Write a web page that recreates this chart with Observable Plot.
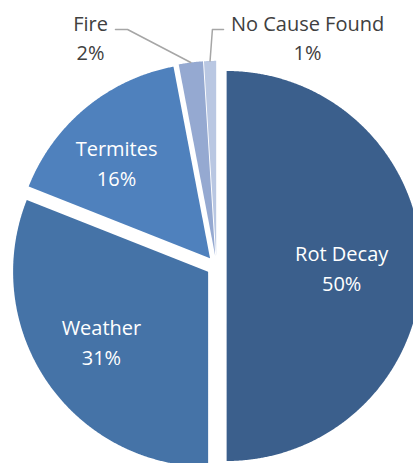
<!DOCTYPE html>
<html><head><meta charset="utf-8">
<script src="https://cdn.jsdelivr.net/npm/d3@7"></script>
<script src="https://cdn.jsdelivr.net/npm/@observablehq/plot@0.6"></script>
<style>body{margin:0;background:#fff} svg{display:block}</style>
</head><body><div id="chart"></div>
<script>
// ---- data ----
const categories = ["Rot Decay", "Weather", "Termites", "Fire", "No Cause Found"];
const values = [50, 31, 16, 2, 1];
const percentLabels = ["50%", "31%", "16%", "2%", "1%"];

// ---- style / layout ----
const colors = ["#3B5F8C", "#4573A7", "#4F81BD", "#95A9D1", "#B9C7E2"];
const W = 413, H = 463;
const cxPx = 216, cyPx = 265.5, Rpx = 195;
const explode = 0.052;
const insideLabelRadius = [0.59, 0.65, 0.69];
const insideLabelShift = [0, 1.5, -4.4]; // degrees
const outsideLabelPos = [null, null, null, [-0.646, 1.18], [0.467, 1.18]];
const leaderStart = [null, null, null, [[-0.518, 1.213], [-0.456, 1.213]], [[0.036, 1.213], [-0.021, 1.213]]];

const arcs = d3.pie().sort(null).value(d => d)(values);

const polys = [];
const labels = [];
const leaders = [];
arcs.forEach((a, i) => {
  const name = categories[i];
  const mid = (a.startAngle + a.endAngle) / 2;
  const ox = explode * Math.sin(mid), oy = explode * Math.cos(mid);
  const n = Math.max(4, Math.ceil((a.endAngle - a.startAngle) / 0.005));
  polys.push({name, x: ox, y: oy});
  for (let k = 0; k <= n; k++) {
    const t = a.startAngle + (a.endAngle - a.startAngle) * k / n;
    polys.push({name, x: ox + Math.sin(t), y: oy + Math.cos(t)});
  }
  polys.push({name, x: ox, y: oy});
  const text = name + "\n" + percentLabels[i];
  if (i < 3) {
    const r = insideLabelRadius[i];
    const la = mid + insideLabelShift[i] * Math.PI / 180;
    labels.push({text, x: ox + r * Math.sin(la), y: oy + r * Math.cos(la), inside: true});
  } else {
    const [lx, ly] = outsideLabelPos[i];
    labels.push({text, x: lx, y: ly, inside: false});
    const [p0, p1] = leaderStart[i];
    leaders.push({name, x: p0[0], y: p0[1]});
    leaders.push({name, x: p1[0], y: p1[1]});
    leaders.push({name, x: ox + Math.sin(mid), y: oy + Math.cos(mid)});
  }
});

const chart = Plot.plot({
  width: W, height: H, margin: 0,
  style: {background: "#fff"},
  x: {domain: [-1, 1], range: [cxPx - Rpx, cxPx + Rpx], axis: null},
  y: {domain: [-1, 1], range: [cyPx + Rpx, cyPx - Rpx], axis: null},
  color: {domain: categories, range: colors},
  marks: [
    Plot.line(polys, {x: "x", y: "y", z: "name", fill: "name", stroke: "none", curve: "linear"}),
    Plot.line(leaders, {x: "x", y: "y", z: "name", stroke: "#A6A6A6", strokeWidth: 1.5, curve: "linear"}),
    Plot.text(labels.filter(d => d.inside), {x: "x", y: "y", text: "text", fill: "#FFFFFF",
      fontSize: 20, fontFamily: "Open Sans", lineHeight: 1.5, textAnchor: "middle"}),
    Plot.text(labels.filter(d => !d.inside), {x: "x", y: "y", text: "text", fill: "#404040",
      fontSize: 20, fontFamily: "Open Sans", lineHeight: 1.45, textAnchor: "middle"})
  ]
});
document.getElementById("chart").appendChild(chart);
</script>
</body></html>
